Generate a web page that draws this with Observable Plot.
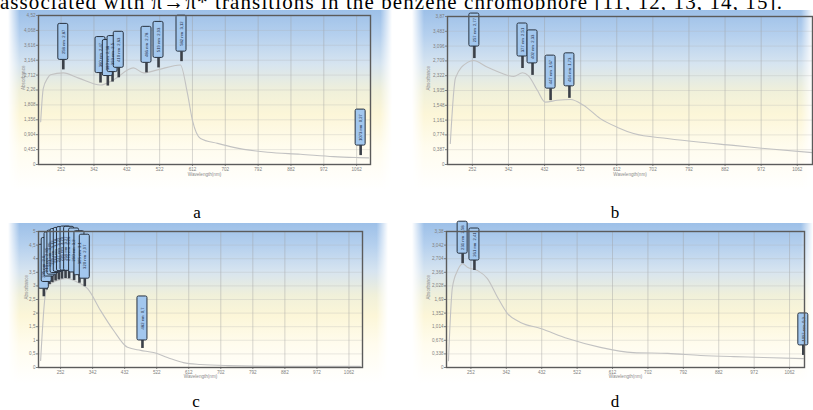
<!DOCTYPE html>
<html><head><meta charset="utf-8">
<script src="https://cdn.jsdelivr.net/npm/d3@7"></script>
<script src="https://cdn.jsdelivr.net/npm/@observablehq/plot@0.6"></script>
<style>
html,body{margin:0;padding:0;background:#fff;overflow:hidden}
#page{position:relative;width:813px;height:410px;overflow:hidden;background:#fff}
.bg{position:absolute;background:linear-gradient(to bottom,#9dc0e8 0%,#b5d0ee 14%,#d6e4f0 30%,#f0f0da 45%,#fcf6d8 58%,#fffcee 76%,#ffffff 100%);
  -webkit-mask-image:linear-gradient(to right,transparent 0,#000 3%,#000 97%,transparent 100%);mask-image:linear-gradient(to right,transparent 0,#000 3%,#000 97%,transparent 100%)}
.panel{position:absolute}
.panel svg{overflow:visible}
.cap{position:absolute;font-family:"Liberation Serif","Times New Roman",serif;font-size:17px;line-height:17px;color:#000;transform:translateX(-50%)}
#top{position:absolute;right:30px;top:-8px;white-space:nowrap;font-family:"Liberation Serif","Times New Roman",serif;font-size:21px;line-height:21px;letter-spacing:1.1px;color:#000}
</style></head>
<body>
<div id="page">
  <div id="top">associated with π→π* transitions in the benzene chromophore [11, 12, 13, 14, 15].</div>
</div>
<script>
// ---------- data ----------
const xDomain = [190, 1100];
const xTicks = [252, 342, 432, 522, 612, 702, 792, 882, 972, 1062];
const captions = ["a", "b", "c", "d"];

// panel a
const aWavelength = [196, 203, 215, 223, 258, 300, 360, 396, 450, 478, 516, 579, 598, 612, 634, 681, 725, 818, 908, 999, 1067, 1095];
const aAbsorbance = [1.30, 2.30, 2.62, 2.72, 2.78, 2.62, 2.41, 2.57, 2.93, 2.78, 2.87, 3.02, 2.17, 1.34, 0.79, 0.64, 0.52, 0.37, 0.31, 0.24, 0.21, 0.20];
const aPeakWl = [258, 360, 380, 393, 410, 486, 519, 582, 1073];
const aPeakAbs = [2.87, 2.47, 2.38, 2.50, 2.63, 2.78, 2.93, 3.12, 0.27];
const aYTicks = [0, 0.452, 0.904, 1.356, 1.808, 2.26, 2.712, 3.164, 3.616, 4.068, 4.52];

// panel b
const bWavelength = [197, 210, 240, 255, 290, 322, 355, 377, 392, 414, 434, 464, 497, 529, 571, 614, 654, 738, 821, 903, 988, 1100];
const bAbsorbance = [0.55, 2.27, 2.67, 2.72, 2.54, 2.40, 2.30, 2.40, 2.32, 1.94, 1.63, 1.68, 1.70, 1.55, 1.20, 0.97, 0.81, 0.68, 0.58, 0.50, 0.41, 0.31];
const bPeakWl = [257, 377, 402, 447, 494];
const bPeakAbs = [2.77, 2.51, 2.33, 1.67, 1.73];
const bYTicks = [0, 0.387, 0.774, 1.161, 1.548, 1.935, 2.322, 2.709, 3.096, 3.483, 3.87];

// panel c
const cWavelength = [196, 210, 218, 243, 271, 300, 328, 364, 401, 440, 477, 513, 552, 597, 645, 721, 926, 1094];
const cAbsorbance = [0.26, 2.76, 3.01, 3.20, 3.27, 3.13, 2.90, 2.10, 1.36, 0.74, 0.63, 0.55, 0.37, 0.18, 0.11, 0.07, 0.04, 0.04];
const cPeakWl = [205, 213, 221, 229, 238, 247, 256, 266, 276, 290, 305, 320, 482];
const cPeakAbs = [2.60, 2.85, 3.05, 3.12, 3.18, 3.22, 3.25, 3.27, 3.26, 3.20, 3.10, 2.97, 0.70];
const cYTicks = [0, 0.5, 1, 1.5, 2, 2.5, 3, 3.5, 4, 4.5, 5];

// panel d
const dWavelength = [195, 205, 218, 231, 243, 269, 294, 320, 345, 378, 429, 498, 581, 665, 752, 836, 920, 996, 1097];
const dAbsorbance = [0.17, 1.99, 2.41, 2.58, 2.49, 2.41, 2.21, 1.74, 1.34, 1.12, 0.97, 0.72, 0.50, 0.37, 0.35, 0.30, 0.27, 0.25, 0.22];
const dPeakWl = [231, 261, 1097];
const dPeakAbs = [2.58, 2.41, 0.30];
const dYTicks = [0, 0.338, 0.676, 1.014, 1.352, 1.69, 2.028, 2.366, 2.704, 3.042, 3.38];

// ---------- layout ----------
const panels = [
  {wl:aWavelength, ab:aAbsorbance, pwl:aPeakWl, pab:aPeakAbs, yTicks:aYTicks,
   bg:[8,10,384,180], left:10, top:10, width:380, height:175, ml:28, mr:20, mt:5, mb:21, stem:10, box:36, xt:11.5, yt:15, cap:[197,204]},
  {wl:bWavelength, ab:bAbsorbance, pwl:bPeakWl, pab:bPeakAbs, yTicks:bYTicks,
   bg:[412,10,401,180], left:413, top:10, width:400, height:175, ml:34, mr:1, mt:6, mb:21, stem:12, box:33, xt:11.5, yt:19, cap:[615,204]},
  {wl:cWavelength, ab:cAbsorbance, pwl:cPeakWl, pab:cPeakAbs, yTicks:cYTicks,
   bg:[8,223,380,160], left:10, top:223, width:375, height:157, ml:28, mr:23, mt:8, mb:13, stem:8, box:44, xt:10.5, yt:12, cap:[196,393]},
  {wl:dWavelength, ab:dAbsorbance, pwl:dPeakWl, pab:dPeakAbs, yTicks:dYTicks,
   bg:[412,223,401,160], left:413, top:223, width:400, height:157, ml:33, mr:9, mt:8, mb:13, stem:10, box:32, xt:10.5, yt:18, cap:[615,393]}
];

const fmt = d => d === 0 ? "0" : String(d).replace(".", ",");
const page = document.getElementById("page");

panels.forEach((p, pi) => {
  const bg = document.createElement("div");
  bg.className = "bg";
  Object.assign(bg.style, {left:p.bg[0]+"px", top:p.bg[1]+"px", width:p.bg[2]+"px", height:p.bg[3]+"px"});
  page.appendChild(bg);

  const fw = p.width - p.ml - p.mr, fh = p.height - p.mt - p.mb;
  const kx = (xDomain[1] - xDomain[0]) / fw;
  const ymax = p.yTicks[p.yTicks.length - 1];
  const ky = ymax / fh;
  const series = p.wl.map((w, i) => ({w, a: p.ab[i]}));
  const peaks = p.pwl.map((w, i) => ({w, a: p.pab[i], b: p.pab[i] + p.stem * ky, t: p.pab[i] + (p.stem + p.box) * ky}));

  const svg = Plot.plot({
    width: p.width, height: p.height,
    marginLeft: p.ml, marginRight: p.mr, marginTop: p.mt, marginBottom: p.mb,
    style: {background: "transparent", fontFamily: "'Liberation Sans', Arial, sans-serif", fontSize: "4.6px", color: "#808080", overflow: "visible"},
    x: {domain: xDomain},
    y: {domain: [0, ymax]},
    marks: [
      Plot.gridX({ticks: xTicks, stroke: "#9a9a9a", strokeOpacity: 0.4}),
      Plot.gridY({ticks: p.yTicks, stroke: "#b0b0b0", strokeOpacity: 0.28}),
      Plot.axisX({ticks: xTicks, tickSize: 2, tickPadding: 1, label: null, tickFormat: d => String(d)}),
      Plot.axisY({ticks: p.yTicks, tickSize: 2, tickPadding: 1, label: null, tickFormat: fmt}),
      Plot.line(series, {x: "w", y: "a", stroke: "#c2c2c2", strokeWidth: 1.1, curve: "monotone-x"}),
      Plot.ruleX(peaks, {x: "w", y1: "a", y2: "b", stroke: "#3b4048", strokeWidth: 2.6}),
      Plot.rect(peaks, {x1: d => d.w - 5 * kx, x2: d => d.w + 5 * kx, y1: "b", y2: "t", fill: "#a2c7ee", stroke: "#28323f", strokeWidth: 1, rx: 1.5}),
      Plot.text(peaks, {x: "w", y: d => (d.b + d.t) / 2, text: d => `${fmt(d.w)} nm  ${fmt(d.a)}`, rotate: -90, fontSize: 4.2, fill: "#1c2a3f"}),
      Plot.frame({stroke: "#5b5b5b", strokeWidth: 1.4}),
      Plot.text(["Wavelength(nm)"], {text: d => d, frameAnchor: "bottom", dy: p.xt, fontSize: 4.6, fill: "#8a8a8a"}),
      Plot.text(["Absorbance"], {text: d => d, frameAnchor: "left", dx: -p.yt, rotate: -90, fontSize: 4.6, fill: "#8a8a8a"})
    ]
  });
  const holder = document.createElement("div");
  holder.className = "panel";
  holder.style.left = p.left + "px";
  holder.style.top = p.top + "px";
  holder.appendChild(svg);
  page.appendChild(holder);

  const cap = document.createElement("div");
  cap.className = "cap";
  cap.style.left = p.cap[0] + "px";
  cap.style.top = p.cap[1] + "px";
  cap.textContent = captions[pi];
  page.appendChild(cap);
});
</script>
</body></html>
